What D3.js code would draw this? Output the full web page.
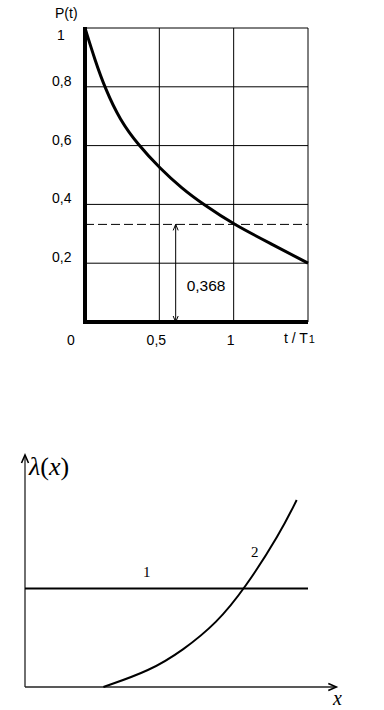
<!DOCTYPE html>
<html>
<head>
<meta charset="utf-8">
<script src="https://cdn.jsdelivr.net/npm/d3@7"></script>
<style>
  body { margin: 0; background: #fff; }
  svg { display: block; }
</style>
</head>
<body>
<svg id="chart" width="384" height="710"></svg>
<script>
// --- top chart: P(t) vs t/T1 ---
const tValues = [0, 0.067, 0.135, 0.235, 0.359, 0.504, 0.65, 0.796, 1.0, 1.267, 1.5];
const pValues = [1, 0.891, 0.795, 0.687, 0.602, 0.523, 0.455, 0.40, 0.332, 0.262, 0.2];
const yTicks = [0.2, 0.4, 0.6, 0.8, 1];
const yTickLabels = ["0,2", "0,4", "0,6", "0,8", "1"];
const xTicks = [0, 0.5, 1];
const xTickLabels = ["0", "0,5", "1"];
const xGrid = [0.5, 1, 1.5];
const refLevel = 0.332;
const refT = 0.61;
const refLabel = "0,368";

// --- bottom chart: lambda(x) ---
const lineLevel = 0.425;
const curveX = [0.277, 0.442, 0.559, 0.677, 0.777, 0.901, 0.960];
const curveY = [0, 0.07, 0.159, 0.275, 0.425, 0.662, 0.806];

const svg = d3.select("#chart");

const x = d3.scaleLinear().domain([0, 1.5]).range([85, 308]);
const y = d3.scaleLinear().domain([0, 1]).range([322, 28]);

const topG = svg.append("g");

// grid
topG.selectAll(".hgrid")
  .data(yTicks)
  .join("line")
  .attr("x1", x(0)).attr("x2", x(1.5))
  .attr("y1", d => y(d)).attr("y2", d => y(d))
  .attr("stroke", "#000").attr("stroke-width", 1);

topG.selectAll(".vgrid")
  .data(xGrid)
  .join("line")
  .attr("x1", d => x(d)).attr("x2", d => x(d))
  .attr("y1", y(0)).attr("y2", y(1))
  .attr("stroke", "#000").attr("stroke-width", 1);

// dashed reference level
topG.append("line")
  .attr("x1", x(0)).attr("x2", x(1.5))
  .attr("y1", y(refLevel)).attr("y2", y(refLevel))
  .attr("stroke", "#000").attr("stroke-width", 1)
  .attr("stroke-dasharray", "9,4");

// double arrow
const ax = x(refT);
topG.append("line")
  .attr("x1", ax).attr("x2", ax)
  .attr("y1", y(refLevel)).attr("y2", y(0))
  .attr("stroke", "#000").attr("stroke-width", 1);
topG.append("path")
  .attr("d", `M${ax - 2.5},${y(refLevel) + 6} L${ax},${y(refLevel)} L${ax + 2.5},${y(refLevel) + 6}`
    + ` M${ax - 2.5},${y(0) - 6} L${ax},${y(0)} L${ax + 2.5},${y(0) - 6}`)
  .attr("fill", "none").attr("stroke", "#000").attr("stroke-width", 1);

topG.append("text")
  .attr("x", ax + 11).attr("y", 291)
  .attr("font-family", "Arial, 'Liberation Sans', sans-serif")
  .attr("font-size", "15.5px")
  .text(refLabel);

// curve
topG.append("path")
  .datum(tValues.map((t, i) => [t, pValues[i]]))
  .attr("d", d3.line().x(d => x(d[0])).y(d => y(d[1])).curve(d3.curveBasis))
  .attr("fill", "none").attr("stroke", "#000").attr("stroke-width", 3);

// thick axes
topG.append("line")
  .attr("x1", x(0)).attr("x2", x(0))
  .attr("y1", y(1) - 1).attr("y2", y(0) + 2)
  .attr("stroke", "#000").attr("stroke-width", 4);
topG.append("line")
  .attr("x1", x(0)).attr("x2", x(1.5))
  .attr("y1", y(0)).attr("y2", y(0))
  .attr("stroke", "#000").attr("stroke-width", 4);

// labels
const sans = "Arial, 'Liberation Sans', sans-serif";
topG.selectAll(".ylab")
  .data(yTicks)
  .join("text")
  .attr("x", d => d === 1 ? 57 : 52)
  .attr("y", d => y(d) + (d === 1 ? 12 : -1))
  .attr("font-family", sans).attr("font-size", "14px")
  .text((d, i) => yTickLabels[i]);

topG.selectAll(".xlab")
  .data(xTicks)
  .join("text")
  .attr("x", d => d === 0 ? 71 : x(d) - 3)
  .attr("y", 345)
  .attr("text-anchor", "middle")
  .attr("font-family", sans).attr("font-size", "14px")
  .text((d, i) => xTickLabels[i]);

topG.append("text")
  .attr("x", 55).attr("y", 18)
  .attr("font-family", sans).attr("font-size", "14px")
  .text("P(t)");

const xt = topG.append("text")
  .attr("x", 284).attr("y", 343)
  .attr("font-family", sans).attr("font-size", "14px");
xt.append("tspan").text("t / T");
xt.append("tspan").attr("font-size", "11px").attr("dx", 1).text("1");

// --- bottom chart ---
const bx = d3.scaleLinear().domain([0, 1]).range([25, 308]);
const by = d3.scaleLinear().domain([0, 1]).range([687, 455]);
const botG = svg.append("g");

// axes with open arrows
botG.append("line")
  .attr("x1", bx(0)).attr("x2", bx(0))
  .attr("y1", by(0)).attr("y2", by(1))
  .attr("stroke", "#222").attr("stroke-width", 1.3);
botG.append("line")
  .attr("x1", bx(0)).attr("x2", bx(1.1))
  .attr("y1", by(0)).attr("y2", by(0))
  .attr("stroke", "#222").attr("stroke-width", 1.3);
botG.append("path")
  .attr("d", `M${bx(0) - 3.5},${by(1) + 8} L${bx(0)},${by(1)} L${bx(0) + 3.5},${by(1) + 8}`)
  .attr("fill", "none").attr("stroke", "#000").attr("stroke-width", 1.6);
botG.append("path")
  .attr("d", `M${bx(1.1) - 8},${by(0) - 3.5} L${bx(1.1)},${by(0)} L${bx(1.1) - 8},${by(0) + 3.5}`)
  .attr("fill", "none").attr("stroke", "#000").attr("stroke-width", 1.6);

// line 1
botG.append("line")
  .attr("x1", bx(0)).attr("x2", bx(1))
  .attr("y1", by(lineLevel)).attr("y2", by(lineLevel))
  .attr("stroke", "#000").attr("stroke-width", 2);

// curve 2
botG.append("path")
  .datum(curveX.map((v, i) => [v, curveY[i]]))
  .attr("d", d3.line().x(d => bx(d[0])).y(d => by(d[1])).curve(d3.curveBasis))
  .attr("fill", "none").attr("stroke", "#000").attr("stroke-width", 2);

const serif = "'Times New Roman', 'Liberation Serif', serif";
botG.append("text")
  .attr("x", 143).attr("y", 577)
  .attr("font-family", serif).attr("font-size", "15px")
  .text("1");
botG.append("text")
  .attr("x", 251).attr("y", 557)
  .attr("font-family", serif).attr("font-size", "15px")
  .text("2");

const lam = botG.append("text")
  .attr("x", 29).attr("y", 475)
  .attr("font-family", serif).attr("font-size", "26px");
lam.append("tspan").attr("font-style", "italic").text("λ");
lam.append("tspan").text("(");
lam.append("tspan").attr("font-style", "italic").text("x");
lam.append("tspan").text(")");

botG.append("text")
  .attr("x", 333).attr("y", 705)
  .attr("font-family", serif).attr("font-size", "20px")
  .attr("font-style", "italic")
  .text("x");
</script>
</body>
</html>
